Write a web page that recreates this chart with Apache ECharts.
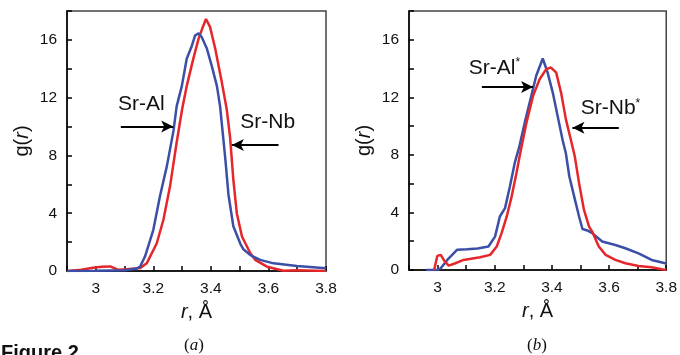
<!DOCTYPE html>
<html>
<head>
<meta charset="utf-8">
<script src="https://cdn.jsdelivr.net/npm/echarts@6/dist/echarts.min.js"></script>
<style>
html,body{margin:0;padding:0;background:#fff;}
#c{width:680px;height:355px;}
</style>
</head>
<body>
<div id="c"></div>
<script>
// ---- data (r in Å, g(r)) ----
var xTicks = [3, 3.2, 3.4, 3.6, 3.8];
var yTicks = [0, 4, 8, 12, 16];

var srAl = [[2.9,0],[3.0,0.02],[3.1,0.05],[3.14,0.15],[3.154,0.3],[3.171,1.0],[3.2,2.85],[3.223,5.17],[3.247,7.26],[3.27,9.7],[3.281,11.4],[3.299,12.8],[3.316,14.7],[3.334,15.6],[3.345,16.3],[3.357,16.45],[3.368,16.2],[3.386,15.4],[3.403,14.2],[3.421,12.8],[3.432,11.4],[3.441,9.6],[3.45,7.8],[3.461,5.3],[3.478,3.1],[3.502,1.9],[3.513,1.5],[3.537,1.1],[3.571,0.77],[3.618,0.53],[3.699,0.35],[3.8,0.19]];

var srNb = [[2.9,0],[2.95,0.08],[2.99,0.23],[3.02,0.3],[3.05,0.32],[3.078,0.08],[3.108,0.12],[3.154,0.2],[3.177,0.53],[3.212,1.92],[3.235,3.55],[3.258,5.86],[3.281,8.9],[3.3,11.2],[3.316,12.8],[3.339,14.7],[3.357,16.07],[3.374,17.0],[3.383,17.45],[3.397,16.9],[3.415,15.4],[3.438,13.06],[3.455,11.2],[3.467,9.2],[3.478,6.33],[3.49,4.0],[3.508,2.39],[3.537,1.23],[3.554,0.77],[3.595,0.3],[3.652,0.02],[3.7,0.05],[3.8,0]];

var srAlStar = [[2.96,0],[3.0,0],[3.011,0.12],[3.034,0.7],[3.068,1.4],[3.103,1.44],[3.14,1.5],[3.178,1.63],[3.184,1.74],[3.201,2.32],[3.218,3.72],[3.236,4.3],[3.253,5.81],[3.27,7.44],[3.285,8.5],[3.305,10.24],[3.328,12.1],[3.345,13.5],[3.368,14.7],[3.385,13.72],[3.403,12.33],[3.42,10.7],[3.437,9.07],[3.449,8.1],[3.461,6.5],[3.478,5.1],[3.495,3.72],[3.507,2.85],[3.524,2.75],[3.541,2.56],[3.576,1.98],[3.622,1.74],[3.657,1.51],[3.703,1.16],[3.749,0.7],[3.8,0.45]];

var srNbStar = [[2.988,0],[2.999,0.98],[3.011,1.05],[3.025,0.6],[3.039,0.3],[3.06,0.45],[3.091,0.7],[3.149,0.89],[3.184,1.05],[3.207,1.63],[3.224,2.56],[3.242,3.72],[3.259,5.1],[3.276,6.74],[3.29,8.2],[3.311,10.24],[3.334,12.1],[3.357,13.26],[3.38,13.96],[3.397,14.07],[3.415,13.72],[3.432,12.33],[3.449,10.47],[3.466,9.07],[3.48,7.9],[3.495,6.05],[3.512,4.19],[3.53,3.02],[3.541,2.67],[3.564,1.63],[3.588,1.05],[3.622,0.7],[3.657,0.47],[3.703,0.28],[3.749,0.19],[3.784,0.05],[3.8,0]];

// arrows: [fromX, toX, y] in data units, per panel
var arrowsA = [[3.087, 3.269, 10.0], [3.635, 3.473, 8.72]];
var arrowsB = [[3.155, 3.334, 12.72], [3.634, 3.472, 9.89]];
// label anchors (left edge, vertical centre) in data units
var labelsA = [['Sr-Al', '', 3.077, 11.34], ['Sr-Nb', '', 3.502, 10.16]];
var labelsB = [['Sr-Al', '*', 3.109, 13.89], ['Sr-Nb', '*', 3.501, 11.1]];

var BLUE = '#3c4fa6', RED = '#e5262b';
var SANS = 'Liberation Sans, Arial, sans-serif';

function xAx(gi) {
  return {
    type: 'value', gridIndex: gi, min: 2.9, max: 3.8, interval: 0.1,
    name: '{i|r}, Å', nameLocation: 'middle', nameGap: 31,
    nameTextStyle: {fontSize: 20, color: '#111', fontFamily: SANS,
      rich: {i: {fontSize: 20, fontStyle: 'italic', color: '#111', fontFamily: SANS}}},
    axisLine: {lineStyle: {color: '#000', width: 1.5}},
    axisTick: {inside: true, length: 5, lineStyle: {color: '#000', width: 1.5}},
    splitLine: {show: false},
    axisLabel: {fontSize: 15.5, color: '#111', fontFamily: SANS, margin: 10,
      formatter: function (v) {
        var t = Math.round(v * 10) / 10;
        return xTicks.indexOf(t) >= 0 ? String(t) : '';
      }}
  };
}
function yAx(gi) {
  return {
    type: 'value', gridIndex: gi, min: 0, max: 18, interval: 2,
    name: 'g({i|r})', nameLocation: 'middle', nameGap: 35,
    nameTextStyle: {fontSize: 20, color: '#111', fontFamily: SANS,
      rich: {i: {fontSize: 20, fontStyle: 'italic', color: '#111', fontFamily: SANS}}},
    axisLine: {lineStyle: {color: '#000', width: 1.5}},
    axisTick: {inside: true, length: 5, lineStyle: {color: '#000', width: 1.5}},
    splitLine: {show: false},
    axisLabel: {fontSize: 15.5, color: '#111', fontFamily: SANS, margin: 10,
      formatter: function (v) { return yTicks.indexOf(v) >= 0 ? String(v) : ''; }}
  };
}
function arrowML(list) {
  return {
    silent: true, symbol: ['none', 'arrow'], symbolSize: [9, 12], animation: false,
    lineStyle: {color: '#000', width: 2, type: 'solid'},
    label: {show: false},
    data: list.map(function (a) { return [{coord: [a[0], a[2]]}, {coord: [a[1], a[2]]}]; })
  };
}
function line(data, color, xi, ml) {
  var s = {type: 'line', data: data, xAxisIndex: xi, yAxisIndex: xi, showSymbol: false,
    symbol: 'none', lineStyle: {color: color, width: 2.5}, itemStyle: {color: color}, animation: false};
  if (ml) s.markLine = ml;
  return s;
}

var chart = echarts.init(document.getElementById('c'), null, {renderer: 'canvas'});
var option = {
  backgroundColor: '#fff',
  animation: false,
  grid: [
    {left: 67, top: 11, width: 259, height: 260, show: true, borderColor: '#444', borderWidth: 1.5, backgroundColor: 'transparent'},
    {left: 409, top: 11, width: 259, height: 259, show: true, borderColor: '#444', borderWidth: 1.5, backgroundColor: 'transparent'}
  ],
  xAxis: [xAx(0), xAx(1)],
  yAxis: [yAx(0), yAx(1)],
  series: [
    line(srNb, RED, 0, arrowML(arrowsA)),
    line(srAl, BLUE, 0),
    line(srAlStar, BLUE, 1, arrowML(arrowsB)),
    line(srNbStar, RED, 1)
  ]
};
chart.setOption(option);

// annotation texts positioned from data coordinates
var g = [];
function addLabels(list, gi) {
  list.forEach(function (l) {
    var p = chart.convertToPixel({gridIndex: gi}, [l[2], l[3]]);
    g.push({type: 'text', left: p[0], top: p[1] - 13, silent: true,
      style: {text: '{a|' + l[0] + '}' + (l[1] ? '{s|' + l[1] + '}' : ''),
        rich: {a: {fontSize: 21, fontFamily: SANS, fill: '#111'},
               s: {fontSize: 12, fontFamily: SANS, fill: '#111', padding: [0, 0, 10, 0]}}}});
  });
}
addLabels(labelsA, 0);
addLabels(labelsB, 1);
g.push({type: 'text', left: 184, top: 337, silent: true,
  style: {text: '({i|a})', fontSize: 17, fontFamily: 'Liberation Serif, serif', fill: '#111',
    rich: {i: {fontSize: 17, fontStyle: 'italic', fontFamily: 'Liberation Serif, serif', fill: '#111'}}}});
g.push({type: 'text', left: 527, top: 337, silent: true,
  style: {text: '({i|b})', fontSize: 17, fontFamily: 'Liberation Serif, serif', fill: '#111',
    rich: {i: {fontSize: 17, fontStyle: 'italic', fontFamily: 'Liberation Serif, serif', fill: '#111'}}}});
g.push({type: 'text', left: 1, top: 343, silent: true,
  style: {text: 'Figure 2', fontSize: 20, fontWeight: 'bold', fontFamily: SANS, fill: '#111'}});
chart.setOption({graphic: g});
</script>
</body>
</html>
